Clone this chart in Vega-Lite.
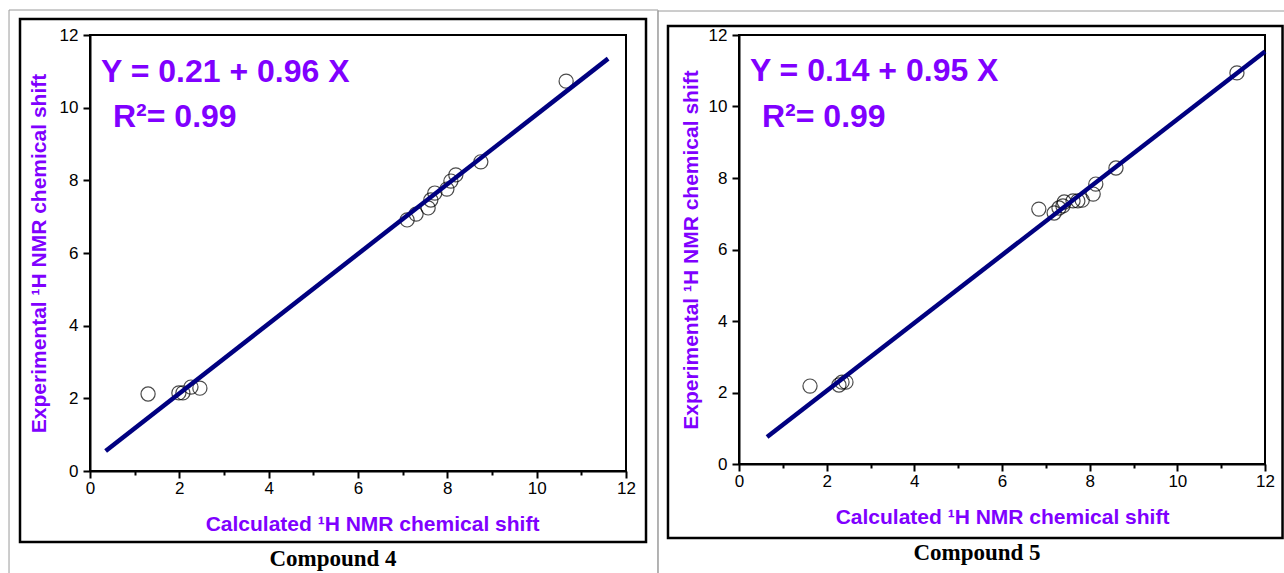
{
  "$schema": "https://vega.github.io/schema/vega-lite/v6.json",
  "background": "white",
  "padding": {"left": 7, "top": 8, "right": 0, "bottom": 0},
  "spacing": 113,
  "bounds": "flush",
  "config": {
    "view": {"stroke": "black", "strokeWidth": 2},
    "font": "Liberation Sans"
  },
  "datasets": {
    "c4": [
      {"calc": 1.30, "exp": 2.12},
      {"calc": 1.99, "exp": 2.15},
      {"calc": 2.08, "exp": 2.15},
      {"calc": 2.26, "exp": 2.31},
      {"calc": 2.46, "exp": 2.28},
      {"calc": 7.10, "exp": 6.91},
      {"calc": 7.30, "exp": 7.07},
      {"calc": 7.57, "exp": 7.24},
      {"calc": 7.63, "exp": 7.46},
      {"calc": 7.72, "exp": 7.65},
      {"calc": 7.99, "exp": 7.76},
      {"calc": 8.08, "exp": 7.98},
      {"calc": 8.19, "exp": 8.15},
      {"calc": 8.75, "exp": 8.51},
      {"calc": 10.66, "exp": 10.73}
    ],
    "c5": [
      {"calc": 1.62, "exp": 2.18},
      {"calc": 2.28, "exp": 2.21},
      {"calc": 2.35, "exp": 2.29},
      {"calc": 2.44, "exp": 2.29},
      {"calc": 6.84, "exp": 7.13},
      {"calc": 7.19, "exp": 7.02},
      {"calc": 7.30, "exp": 7.16},
      {"calc": 7.39, "exp": 7.22},
      {"calc": 7.42, "exp": 7.33},
      {"calc": 7.62, "exp": 7.36},
      {"calc": 7.73, "exp": 7.36},
      {"calc": 7.83, "exp": 7.38},
      {"calc": 8.08, "exp": 7.55},
      {"calc": 8.14, "exp": 7.83},
      {"calc": 8.60, "exp": 8.28},
      {"calc": 11.36, "exp": 10.94}
    ],
    "fit4": [
      {"calc": 0.35, "exp": 0.55},
      {"calc": 11.6, "exp": 11.35}
    ],
    "fit5": [
      {"calc": 0.64, "exp": 0.755},
      {"calc": 12.0, "exp": 11.54}
    ]
  },
  "hconcat": [
    {
      "width": 536,
      "height": 436,
      "layer": [
        {
          "data": {"name": "c4"},
          "mark": {"type": "point", "shape": "circle", "filled": false, "stroke": "black", "strokeWidth": 1.2, "size": 200},
          "encoding": {
            "x": {
              "field": "calc", "type": "quantitative",
              "title": "Calculated ¹H NMR chemical shift",
              "scale": {"domain": [0, 12], "nice": false, "zero": false},
              "axis": {
                "grid": false,
                "domainColor": "black", "domainWidth": 2,
                "tickColor": "black", "tickWidth": 2,
                "values": [0, 1, 2, 3, 4, 5, 6, 7, 8, 9, 10, 11, 12],
                "labelExpr": "datum.value % 2 === 0 ? datum.label : ''",
                "tickSize": {"condition": {"test": "datum.value % 2 === 0", "value": 7}, "value": 4},
                "labelFont": "Liberation Sans", "labelFontSize": 17, "labelColor": "black",
                "labelFlush": false, "labelOverlap": false,
                "labelPadding": 2,
                "titleFont": "Liberation Sans", "titleFontSize": 21, "titleFontWeight": "bold", "titleColor": "#8000ff",
                "titlePadding": 17,
                "titleX": 282
              }
            },
            "y": {
              "field": "exp", "type": "quantitative",
              "title": "Experimental ¹H NMR chemical shift",
              "scale": {"domain": [0, 12], "nice": false, "zero": false},
              "axis": {
                "grid": false,
                "domainColor": "black", "domainWidth": 2,
                "tickColor": "black", "tickWidth": 2,
                "values": [0, 1, 2, 3, 4, 5, 6, 7, 8, 9, 10, 11, 12],
                "labelExpr": "datum.value % 2 === 0 ? datum.label : ''",
                "tickSize": {"condition": {"test": "datum.value % 2 === 0", "value": 7}, "value": 4},
                "labelFont": "Liberation Sans", "labelFontSize": 17, "labelColor": "black",
                "labelFlush": false, "labelOverlap": false,
                "labelPadding": 5,
                "titleFont": "Liberation Sans", "titleFontSize": 21, "titleFontWeight": "bold", "titleColor": "#8000ff",
                "titlePadding": 10
              }
            }
          }
        },
        {
          "data": {"values": [{}]},
          "mark": {"type": "rect", "fill": "white", "fillOpacity": 0, "stroke": "#9a9a9a", "strokeWidth": 1, "clip": false},
          "encoding": {
            "x": {"datum": -1.813, "type": "quantitative", "title": "Calculated ¹H NMR chemical shift"},
            "x2": {"datum": 12.716},
            "y": {"datum": 12.688, "type": "quantitative", "title": "Experimental ¹H NMR chemical shift"},
            "y2": {"datum": -3.0}
          }
        },
        {
          "data": {"values": [{}]},
          "mark": {"type": "rect", "fill": "white", "fillOpacity": 0, "stroke": "black", "strokeWidth": 2.5, "clip": false},
          "encoding": {
            "x": {"datum": -1.567, "type": "quantitative", "title": "Calculated ¹H NMR chemical shift"},
            "x2": {"datum": 12.448},
            "y": {"datum": 12.44, "type": "quantitative", "title": "Experimental ¹H NMR chemical shift"},
            "y2": {"datum": -1.954}
          }
        },
        {
          "data": {"name": "fit4"},
          "mark": {"type": "line", "color": "#000080", "strokeWidth": 4.5},
          "encoding": {
            "x": {"field": "calc", "type": "quantitative", "title": "Calculated ¹H NMR chemical shift"},
            "y": {"field": "exp", "type": "quantitative", "title": "Experimental ¹H NMR chemical shift"}
          }
        },
        {
          "data": {"values": [{}]},
          "mark": {"type": "text", "align": "left", "baseline": "alphabetic", "font": "Liberation Sans", "fontWeight": "bold", "fontSize": 32, "color": "#8000ff", "clip": false},
          "encoding": {
            "x": {"datum": 0.246, "type": "quantitative", "title": "Calculated ¹H NMR chemical shift"},
            "y": {"datum": 10.71, "type": "quantitative", "title": "Experimental ¹H NMR chemical shift"},
            "text": {"value": "Y = 0.21 + 0.96 X"}
          }
        },
        {
          "data": {"values": [{}]},
          "mark": {"type": "text", "align": "left", "baseline": "alphabetic", "font": "Liberation Sans", "fontWeight": "bold", "fontSize": 32, "color": "#8000ff", "clip": false},
          "encoding": {
            "x": {"datum": 0.515, "type": "quantitative", "title": "Calculated ¹H NMR chemical shift"},
            "y": {"datum": 9.47, "type": "quantitative", "title": "Experimental ¹H NMR chemical shift"},
            "text": {"value": "R²= 0.99"}
          }
        },
        {
          "data": {"values": [{}]},
          "mark": {"type": "text", "align": "center", "baseline": "alphabetic", "font": "Liberation Serif", "fontWeight": "bold", "fontSize": 23, "color": "black", "clip": false},
          "encoding": {
            "x": {"datum": 5.44, "type": "quantitative", "title": "Calculated ¹H NMR chemical shift"},
            "y": {"datum": -2.615, "type": "quantitative", "title": "Experimental ¹H NMR chemical shift"},
            "text": {"value": "Compound 4"}
          }
        }
      ]
    },
    {
      "width": 526,
      "height": 429,
      "layer": [
        {
          "data": {"name": "c5"},
          "mark": {"type": "point", "shape": "circle", "filled": false, "stroke": "black", "strokeWidth": 1.2, "size": 200},
          "encoding": {
            "x": {
              "field": "calc", "type": "quantitative",
              "title": "Calculated ¹H NMR chemical shift",
              "scale": {"domain": [0, 12], "nice": false, "zero": false},
              "axis": {
                "grid": false,
                "domainColor": "black", "domainWidth": 2,
                "tickColor": "black", "tickWidth": 2,
                "values": [0, 1, 2, 3, 4, 5, 6, 7, 8, 9, 10, 11, 12],
                "labelExpr": "datum.value % 2 === 0 ? datum.label : ''",
                "tickSize": {"condition": {"test": "datum.value % 2 === 0", "value": 7}, "value": 4},
                "labelFont": "Liberation Sans", "labelFontSize": 17, "labelColor": "black",
                "labelFlush": false, "labelOverlap": false,
                "labelPadding": 2,
                "titleFont": "Liberation Sans", "titleFontSize": 21, "titleFontWeight": "bold", "titleColor": "#8000ff",
                "titlePadding": 17
              }
            },
            "y": {
              "field": "exp", "type": "quantitative",
              "title": "Experimental ¹H NMR chemical shift",
              "scale": {"domain": [0, 12], "nice": false, "zero": false},
              "axis": {
                "grid": false,
                "domainColor": "black", "domainWidth": 2,
                "tickColor": "black", "tickWidth": 2,
                "values": [0, 1, 2, 3, 4, 5, 6, 7, 8, 9, 10, 11, 12],
                "labelExpr": "datum.value % 2 === 0 ? datum.label : ''",
                "tickSize": {"condition": {"test": "datum.value % 2 === 0", "value": 7}, "value": 4},
                "labelFont": "Liberation Sans", "labelFontSize": 17, "labelColor": "black",
                "labelFlush": false, "labelOverlap": false,
                "labelPadding": 5,
                "titleFont": "Liberation Sans", "titleFontSize": 21, "titleFontWeight": "bold", "titleColor": "#8000ff",
                "titlePadding": 7
              }
            }
          }
        },
        {
          "data": {"values": [{}]},
          "mark": {"type": "rect", "fill": "white", "fillOpacity": 0, "stroke": "#9a9a9a", "strokeWidth": 1, "clip": false},
          "encoding": {
            "x": {"datum": -1.848, "type": "quantitative", "title": "Calculated ¹H NMR chemical shift"},
            "x2": {"datum": 12.68},
            "y": {"datum": 12.671, "type": "quantitative", "title": "Experimental ¹H NMR chemical shift"},
            "y2": {"datum": -3.5}
          }
        },
        {
          "data": {"values": [{}]},
          "mark": {"type": "rect", "fill": "white", "fillOpacity": 0, "stroke": "black", "strokeWidth": 2.5, "clip": false},
          "encoding": {
            "x": {"datum": -1.62, "type": "quantitative", "title": "Calculated ¹H NMR chemical shift"},
            "x2": {"datum": 12.40},
            "y": {"datum": 12.252, "type": "quantitative", "title": "Experimental ¹H NMR chemical shift"},
            "y2": {"datum": -2.07}
          }
        },
        {
          "data": {"name": "fit5"},
          "mark": {"type": "line", "color": "#000080", "strokeWidth": 4.5},
          "encoding": {
            "x": {"field": "calc", "type": "quantitative", "title": "Calculated ¹H NMR chemical shift"},
            "y": {"field": "exp", "type": "quantitative", "title": "Experimental ¹H NMR chemical shift"}
          }
        },
        {
          "data": {"values": [{}]},
          "mark": {"type": "text", "align": "left", "baseline": "alphabetic", "font": "Liberation Sans", "fontWeight": "bold", "fontSize": 32, "color": "#8000ff", "clip": false},
          "encoding": {
            "x": {"datum": 0.25, "type": "quantitative", "title": "Calculated ¹H NMR chemical shift"},
            "y": {"datum": 10.71, "type": "quantitative", "title": "Experimental ¹H NMR chemical shift"},
            "text": {"value": "Y = 0.14 + 0.95 X"}
          }
        },
        {
          "data": {"values": [{}]},
          "mark": {"type": "text", "align": "left", "baseline": "alphabetic", "font": "Liberation Sans", "fontWeight": "bold", "fontSize": 32, "color": "#8000ff", "clip": false},
          "encoding": {
            "x": {"datum": 0.525, "type": "quantitative", "title": "Calculated ¹H NMR chemical shift"},
            "y": {"datum": 9.43, "type": "quantitative", "title": "Experimental ¹H NMR chemical shift"},
            "text": {"value": "R²= 0.99"}
          }
        },
        {
          "data": {"values": [{}]},
          "mark": {"type": "text", "align": "center", "baseline": "alphabetic", "font": "Liberation Serif", "fontWeight": "bold", "fontSize": 23, "color": "black", "clip": false},
          "encoding": {
            "x": {"datum": 5.43, "type": "quantitative", "title": "Calculated ¹H NMR chemical shift"},
            "y": {"datum": -2.685, "type": "quantitative", "title": "Experimental ¹H NMR chemical shift"},
            "text": {"value": "Compound 5"}
          }
        }
      ]
    }
  ]
}
